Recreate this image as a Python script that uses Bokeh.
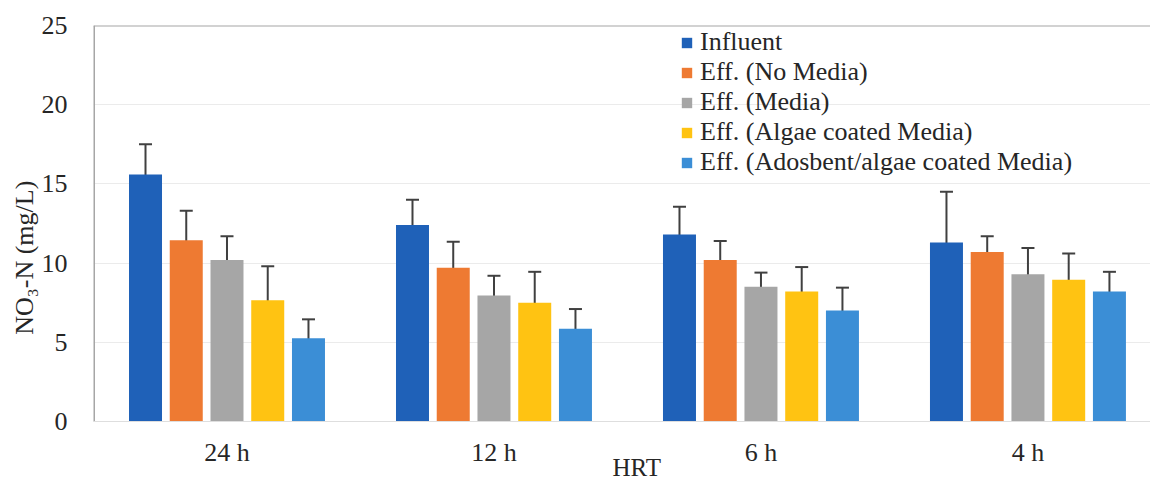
from bokeh.plotting import figure
from bokeh.models import (ColumnDataSource, Range1d, FixedTicker, Whisker, TeeHead,
                          Legend, LegendItem, Span)
from bokeh.core.properties import value
from bokeh.embed import file_html
from bokeh.resources import INLINE

# Hydraulic retention times (groups) and the five sample streams
categories = ["24 h", "12 h", "6 h", "4 h"]
series_names = ["Influent", "Eff. (No Media)", "Eff. (Media)",
                "Eff. (Algae coated Media)", "Eff. (Adosbent/algae coated Media)"]

# NO3-N means (mg/L) and standard deviations
influent = [15.6, 12.4, 11.8, 11.3]
influent_sd = [1.9, 1.6, 1.75, 3.2]
no_media = [11.45, 9.7, 10.2, 10.7]
no_media_sd = [1.85, 1.65, 1.2, 1.0]
media = [10.2, 7.95, 8.5, 9.3]
media_sd = [1.5, 1.25, 0.9, 1.65]
algae_media = [7.65, 7.5, 8.2, 8.95]
algae_media_sd = [2.15, 1.95, 1.55, 1.65]
adsorbent_media = [5.25, 5.85, 7.0, 8.2]
adsorbent_media_sd = [1.2, 1.25, 1.45, 1.25]

y_ticks = [0, 5, 10, 15, 20, 25]

means = [influent, no_media, media, algae_media, adsorbent_media]
sds = [influent_sd, no_media_sd, media_sd, algae_media_sd, adsorbent_media_sd]
colors = ["#1F61B8", "#EE7A32", "#A6A6A6", "#FFC312", "#3B8ED6"]

FONT = "Liberation Serif"
TEXT = "#262626"
Y_MIN, Y_MAX = 0, 25
# room under the zero line for the category labels and the axis title
y_floor = -3.914

p = figure(width=1150, height=483, output_backend="svg", toolbar_location=None,
           x_range=Range1d(-0.5, 3.459), y_range=Range1d(y_floor, Y_MAX),
           min_border_left=93, min_border_right=0, min_border_top=25,
           min_border_bottom=0)
p.outline_line_color = None
p.background_fill_color = "white"
p.border_fill_color = "white"

step = 0.1526
bar_w = 0.1236
items = []
for k, (name, vals, sd, col) in enumerate(zip(series_names, means, sds, colors)):
    xs = [i + (k - 2) * step for i in range(len(categories))]
    src = ColumnDataSource(dict(
        x=xs, top=vals,
        upper=[v + s for v, s in zip(vals, sd)],
        lower=[v - s for v, s in zip(vals, sd)]))
    r = p.vbar(x="x", top="top", bottom=Y_MIN, width=bar_w, source=src,
               fill_color=col, line_color=None)
    items.append(LegendItem(label=name, renderers=[r]))
    w = Whisker(base="x", upper="upper", lower="lower", source=src,
                line_color="#404040", line_width=2,
                upper_head=TeeHead(size=13, line_color="#404040", line_width=2),
                lower_head=TeeHead(size=13, line_color="#404040", line_width=2))
    p.add_layout(w)

# chart box: top edge, left edge and the category baseline
p.add_layout(Span(location=Y_MAX, dimension="width", line_color="#a6a6a6", line_width=2))
p.add_layout(Span(location=Y_MIN, dimension="width", line_color="#dedede", line_width=1))
p.segment(x0=[-0.5], y0=[Y_MIN], x1=[-0.5], y1=[Y_MAX], line_color="#a6a6a6", line_width=3)

# y axis
p.yaxis.ticker = FixedTicker(ticks=y_ticks)
p.yaxis.axis_label = "NO\u2083-N  (mg/L)"
p.yaxis.axis_label_text_font = FONT
p.yaxis.axis_label_text_font_style = "normal"
p.yaxis.axis_label_text_font_size = "26px"
p.yaxis.axis_label_text_color = TEXT
p.yaxis.axis_label_standoff = 0
p.yaxis.major_label_text_font = FONT
p.yaxis.major_label_text_font_style = "normal"
p.yaxis.major_label_text_font_size = "26px"
p.yaxis.major_label_text_color = TEXT
p.yaxis.major_label_standoff = 20
p.yaxis.major_tick_line_color = None
p.yaxis.minor_tick_line_color = None
p.yaxis.axis_line_color = None

# categories along the bottom
p.xaxis.visible = False
p.text(x=list(range(len(categories))), y=[-1.96] * len(categories), text=categories,
       text_font=value(FONT), text_font_style="normal", text_font_size="26px",
       text_color=TEXT, text_align="center", text_baseline="alphabetic")
p.text(x=[1.535], y=[-2.9], text=["HRT"],
       text_font=value(FONT), text_font_style="normal", text_font_size="25px",
       text_color=TEXT, text_align="center", text_baseline="alphabetic")

p.xgrid.grid_line_color = None
p.ygrid.grid_line_color = "#ebebeb"
p.ygrid.grid_line_width = 1

legend = Legend(items=items, location=(587, 306), padding=0, margin=0, spacing=-1,
                label_text_font=FONT, label_text_font_style="normal",
                label_text_font_size="26px",
                label_text_color=TEXT, label_height=29, label_standoff=7,
                glyph_width=13, glyph_height=13,
                border_line_color=None, background_fill_alpha=0)
p.add_layout(legend)

open("out.html", "w").write(file_html(p, INLINE))
